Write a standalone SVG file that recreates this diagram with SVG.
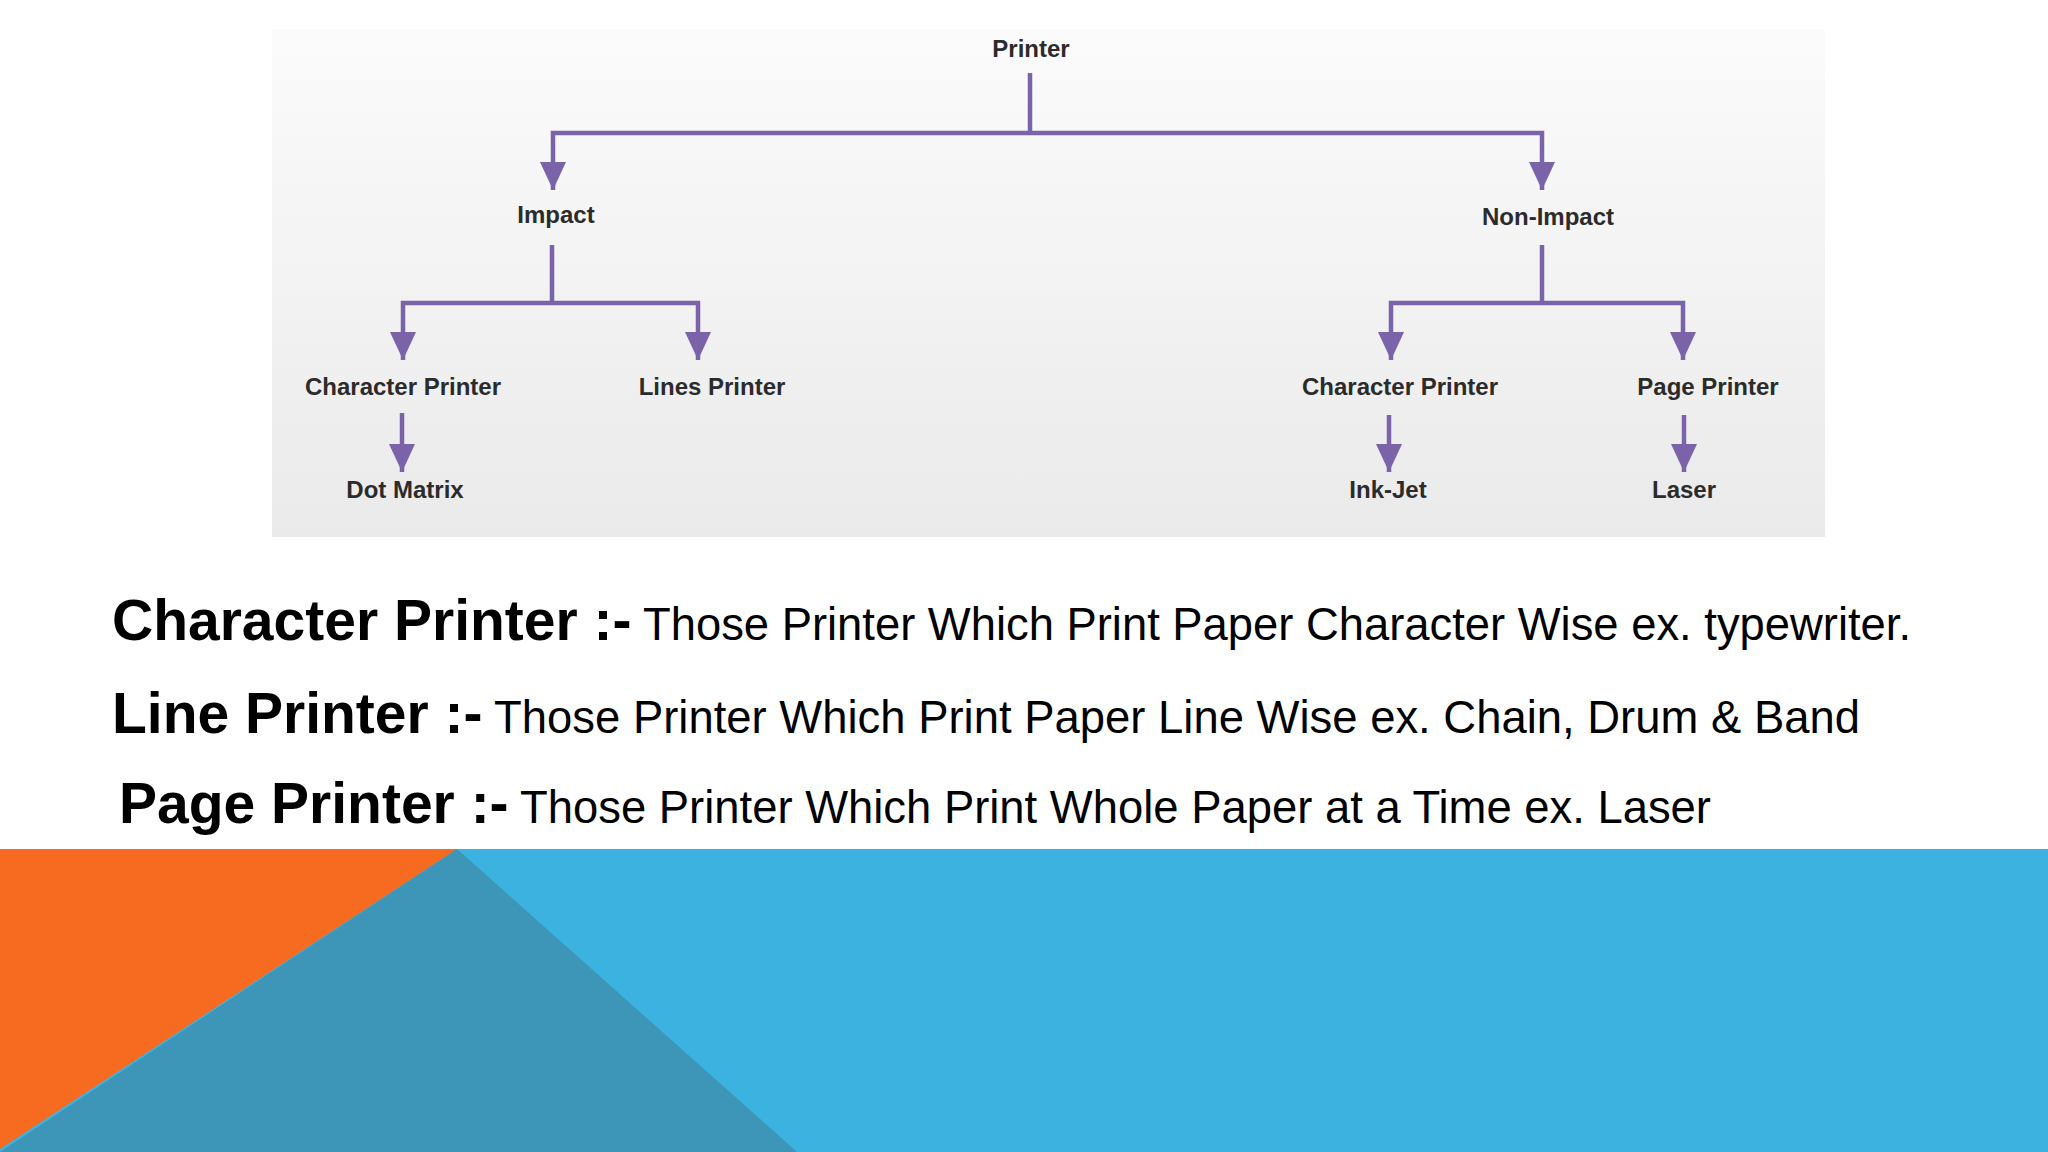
<svg xmlns="http://www.w3.org/2000/svg" width="2048" height="1152" viewBox="0 0 2048 1152">
  <defs>
    <linearGradient id="boxbg" x1="0" y1="0" x2="0" y2="1">
      <stop offset="0" stop-color="#fbfbfb"/>
      <stop offset="1" stop-color="#eaeaeb"/>
    </linearGradient>
    <marker id="arrow" markerUnits="userSpaceOnUse" markerWidth="30" markerHeight="28" refX="28" refY="13" orient="auto">
      <path d="M0,0 L28,13 L0,26 z" fill="#7a63a8"/>
    </marker>
    <style>
      .lbl { font-family: "Liberation Sans", Arial, sans-serif; font-weight: bold; font-size: 24px; fill: #2b2b2b; text-anchor: middle; }
      .conn { fill: none; stroke: #7a63a8; stroke-width: 4.5; }
      .head { font-family: "Liberation Sans", Arial, sans-serif; font-weight: bold; font-size: 57px; fill: #000; }
      .desc { font-family: "Liberation Sans", Arial, sans-serif; font-size: 45.5px; fill: #000; }
    </style>
  </defs>

  <rect x="0" y="0" width="2048" height="1152" fill="#ffffff"/>
  <rect x="272" y="29" width="1553" height="508" fill="url(#boxbg)"/>

  <g id="connectors">
    <line class="conn" x1="1030" y1="73" x2="1030" y2="133"/>
    <path class="conn" d="M1030,133 H553 V190" marker-end="url(#arrow)"/>
    <path class="conn" d="M1030,133 H1542 V190" marker-end="url(#arrow)"/>
    <line class="conn" x1="552" y1="245" x2="552" y2="303"/>
    <path class="conn" d="M552,303 H403 V360" marker-end="url(#arrow)"/>
    <path class="conn" d="M552,303 H698 V360" marker-end="url(#arrow)"/>
    <path class="conn" d="M402,413 V472" marker-end="url(#arrow)"/>
    <line class="conn" x1="1542" y1="245" x2="1542" y2="303"/>
    <path class="conn" d="M1542,303 H1391 V360" marker-end="url(#arrow)"/>
    <path class="conn" d="M1542,303 H1683 V360" marker-end="url(#arrow)"/>
    <path class="conn" d="M1389,415 V472" marker-end="url(#arrow)"/>
    <path class="conn" d="M1684,415 V472" marker-end="url(#arrow)"/>
  </g>

  <g id="printer"><text class="lbl" x="1031" y="57">Printer</text></g>
  <g id="impact"><text class="lbl" x="556" y="223">Impact</text></g>
  <g id="non-impact"><text class="lbl" x="1548" y="225">Non-Impact</text></g>
  <g id="character-printer-impact"><text class="lbl" x="403" y="395">Character Printer</text></g>
  <g id="lines-printer"><text class="lbl" x="712" y="395">Lines Printer</text></g>
  <g id="dot-matrix"><text class="lbl" x="405" y="498">Dot Matrix</text></g>
  <g id="character-printer-nonimpact"><text class="lbl" x="1400" y="395">Character Printer</text></g>
  <g id="page-printer"><text class="lbl" x="1708" y="395">Page Printer</text></g>
  <g id="ink-jet"><text class="lbl" x="1388" y="498">Ink-Jet</text></g>
  <g id="laser"><text class="lbl" x="1684" y="498">Laser</text></g>

  <g id="definitions">
    <text class="head" x="112" y="640">Character Printer :-</text>
    <text class="desc" x="643" y="640" textLength="1268" lengthAdjust="spacingAndGlyphs">Those Printer Which Print Paper Character Wise ex. typewriter.</text>
    <text class="head" x="112" y="733">Line Printer :-</text>
    <text class="desc" x="494" y="733" textLength="1366" lengthAdjust="spacingAndGlyphs">Those Printer Which Print Paper Line Wise ex. Chain, Drum &amp; Band</text>
    <text class="head" x="119" y="823">Page Printer :-</text>
    <text class="desc" x="520" y="823" textLength="1191" lengthAdjust="spacingAndGlyphs">Those Printer Which Print Whole Paper at a Time ex. Laser</text>
  </g>

  <g id="footer-band">
    <rect x="0" y="849" width="2048" height="303" fill="#3bb2e0"/>
    <polygon points="0,849 457,849 0,1149" fill="#f76b20"/>
    <polygon points="457,849 0,1152 797,1152" fill="#3d95b8"/>
  </g>
</svg>
